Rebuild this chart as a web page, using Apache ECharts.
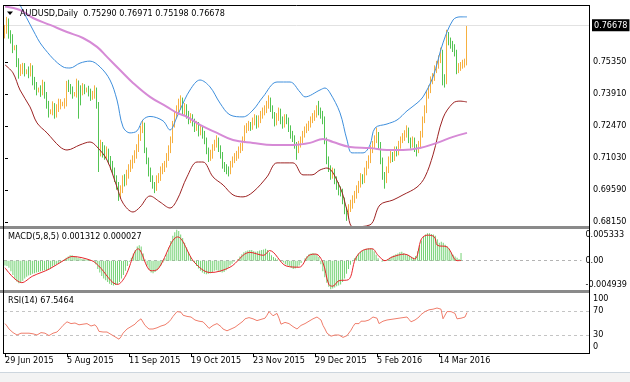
<!DOCTYPE html>
<html><head><meta charset="utf-8">
<script src="https://cdn.jsdelivr.net/npm/echarts@6/dist/echarts.min.js"></script>
<style>html,body{margin:0;padding:0;background:#fff}#c{width:630px;height:382px}</style>
</head><body><div id="c"></div>
<script>
// ---------------- data ----------------
const titleText = "AUDUSD,Daily  0.75290 0.76971 0.75198 0.76678";
const macdTitle = "MACD(5,8,5) 0.001312 0.000027";
const rsiTitle = "RSI(14) 67.5464";
const lastPrice = 0.76678;
const priceTicks = [0.7535, 0.7391, 0.7247, 0.7103, 0.6959, 0.6815];
const macdTicks = [0.005333, 0, -0.004939];
const macdTickText = ["0.005333", "0.00", "-0.004939"];
const rsiTicks = [100, 70, 30, 0];
const rsiLevels = [70, 30];
const dateTickIdx = [0, 31, 62, 93, 124, 155, 186, 217];
const dateLabels = ["29 Jun 2015", "5 Aug 2015", "11 Sep 2015", "19 Oct 2015", "23 Nov 2015", "29 Dec 2015", "5 Feb 2016", "14 Mar 2016"];

const opens = [
0.7660,0.7679,0.7715,0.7657,0.7643,0.7598,0.7598,0.7535,0.7490,0.7499,
0.7508,0.7490,0.7490,0.7486,0.7508,0.7445,0.7427,0.7409,0.7409,0.7400,
0.7432,0.7387,0.7342,0.7310,0.7310,0.7337,0.7301,0.7328,0.7346,0.7346,
0.7346,0.7346,0.7432,0.7418,0.7409,0.7391,0.7391,0.7441,0.7409,0.7400,
0.7418,0.7409,0.7409,0.7400,0.7382,0.7382,0.7409,0.7342,0.7139,0.7148,
0.7139,0.7117,0.7130,0.7094,0.7072,0.7049,0.7013,0.6982,0.6937,0.6959,
0.7004,0.6995,0.7027,0.7058,0.7072,0.7094,0.7117,0.7148,0.7193,0.7229,
0.7252,0.7139,0.7094,0.7040,0.7013,0.6982,0.6968,0.7004,0.7013,0.7049,
0.7058,0.7072,0.7103,0.7139,0.7184,0.7252,0.7297,0.7319,0.7342,0.7364,
0.7310,0.7328,0.7297,0.7274,0.7283,0.7265,0.7238,0.7252,0.7220,0.7229,
0.7207,0.7184,0.7139,0.7103,0.7117,0.7148,0.7162,0.7184,0.7148,0.7117,
0.7072,0.7058,0.7049,0.7040,0.7072,0.7094,0.7103,0.7117,0.7139,0.7148,
0.7184,0.7229,0.7238,0.7252,0.7243,0.7265,0.7283,0.7252,0.7274,0.7297,
0.7310,0.7319,0.7342,0.7364,0.7328,0.7297,0.7265,0.7283,0.7310,0.7274,
0.7252,0.7283,0.7274,0.7238,0.7207,0.7193,0.7162,0.7139,0.7162,0.7184,
0.7207,0.7229,0.7238,0.7252,0.7274,0.7283,0.7297,0.7319,0.7310,0.7297,
0.7274,0.7184,0.7094,0.7058,0.7027,0.7040,0.7004,0.6982,0.6959,0.6950,
0.6914,0.6869,0.6847,0.6878,0.6892,0.6914,0.6937,0.6959,0.6982,0.7013,
0.7004,0.7040,0.7072,0.7094,0.7139,0.7162,0.7184,0.7207,0.7162,0.7094,
0.7027,0.7004,0.7049,0.7094,0.7117,0.7103,0.7139,0.7130,0.7162,0.7184,
0.7193,0.7207,0.7229,0.7184,0.7162,0.7184,0.7148,0.7139,0.7162,0.7207,
0.7274,0.7319,0.7387,0.7409,0.7454,0.7463,0.7499,0.7522,0.7544,0.7580,
0.7454,0.7445,0.7657,0.7625,0.7612,0.7598,0.7580,0.7499,0.7508,0.7517,
0.7526,0.75290];
const highs = [
0.7702,0.7738,0.7731,0.7678,0.7660,0.7610,0.7612,0.7552,0.7525,0.7531,
0.7530,0.7502,0.7515,0.7530,0.7520,0.7468,0.7445,0.7420,0.7430,0.7455,
0.7446,0.7400,0.7360,0.7322,0.7358,0.7350,0.7345,0.7370,0.7368,0.7356,
0.7372,0.7450,0.7455,0.7436,0.7425,0.7400,0.7460,0.7452,0.7430,0.7440,
0.7435,0.7420,0.7428,0.7415,0.7405,0.7430,0.7420,0.7355,0.7185,0.7175,
0.7160,0.7155,0.7145,0.7112,0.7090,0.7060,0.7025,0.6995,0.6980,0.7025,
0.7030,0.7050,0.7075,0.7095,0.7115,0.7138,0.7165,0.7210,0.7248,0.7275,
0.7262,0.7150,0.7105,0.7060,0.7025,0.6995,0.7025,0.7035,0.7065,0.7080,
0.7090,0.7125,0.7160,0.7200,0.7270,0.7315,0.7340,0.7370,0.7385,0.7375,
0.7350,0.7345,0.7315,0.7305,0.7300,0.7280,0.7270,0.7265,0.7250,0.7245,
0.7225,0.7195,0.7150,0.7140,0.7165,0.7185,0.7205,0.7195,0.7160,0.7130,
0.7085,0.7075,0.7065,0.7090,0.7110,0.7125,0.7135,0.7155,0.7170,0.7200,
0.7250,0.7260,0.7270,0.7265,0.7285,0.7300,0.7295,0.7295,0.7315,0.7330,
0.7340,0.7360,0.7385,0.7375,0.7340,0.7310,0.7305,0.7330,0.7325,0.7290,
0.7300,0.7300,0.7285,0.7250,0.7225,0.7205,0.7175,0.7180,0.7200,0.7225,
0.7245,0.7258,0.7270,0.7290,0.7305,0.7318,0.7340,0.7360,0.7330,0.7315,
0.7290,0.7195,0.7110,0.7070,0.7060,0.7055,0.7020,0.6995,0.6975,0.6965,
0.6925,0.6880,0.6895,0.6915,0.6935,0.6955,0.6980,0.7000,0.7035,0.7030,
0.7060,0.7090,0.7115,0.7160,0.7180,0.7205,0.7240,0.7220,0.7175,0.7105,
0.7040,0.7065,0.7110,0.7135,0.7130,0.7155,0.7155,0.7180,0.7200,0.7215,
0.7228,0.7250,0.7240,0.7195,0.7200,0.7195,0.7165,0.7180,0.7225,0.7290,
0.7340,0.7405,0.7430,0.7470,0.7485,0.7520,0.7540,0.7565,0.7600,0.7590,
0.7480,0.7680,0.7670,0.7645,0.7630,0.7615,0.7590,0.7530,0.7535,0.7545,
0.7550,0.76971];
const lows = [
0.7641,0.7662,0.7640,0.7618,0.7575,0.7588,0.7512,0.7460,0.7472,0.7480,
0.7470,0.7480,0.7462,0.7470,0.7430,0.7410,0.7385,0.7398,0.7378,0.7385,
0.7370,0.7325,0.7285,0.7300,0.7295,0.7280,0.7285,0.7310,0.7322,0.7336,
0.7325,0.7335,0.7400,0.7390,0.7370,0.7380,0.7375,0.7280,0.7340,0.7385,
0.7390,0.7398,0.7380,0.7360,0.7365,0.7370,0.7325,0.7040,0.7110,0.7105,
0.7095,0.7100,0.7075,0.7050,0.7030,0.6995,0.6960,0.6910,0.6920,0.6945,
0.6975,0.6980,0.7010,0.7040,0.7055,0.7080,0.7100,0.7130,0.7180,0.7215,
0.7125,0.7075,0.7020,0.6995,0.6965,0.6945,0.6955,0.6990,0.7000,0.7030,
0.7040,0.7060,0.7090,0.7125,0.7170,0.7240,0.7280,0.7300,0.7320,0.7295,
0.7295,0.7280,0.7255,0.7260,0.7245,0.7220,0.7225,0.7200,0.7205,0.7190,
0.7165,0.7120,0.7085,0.7090,0.7100,0.7135,0.7150,0.7130,0.7100,0.7055,
0.7040,0.7030,0.7020,0.7030,0.7060,0.7080,0.7090,0.7100,0.7125,0.7135,
0.7170,0.7215,0.7225,0.7225,0.7230,0.7250,0.7235,0.7240,0.7260,0.7280,
0.7295,0.7305,0.7325,0.7310,0.7280,0.7245,0.7250,0.7270,0.7255,0.7235,
0.7240,0.7255,0.7220,0.7190,0.7175,0.7145,0.7095,0.7125,0.7150,0.7170,
0.7195,0.7215,0.7225,0.7240,0.7260,0.7270,0.7285,0.7295,0.7280,0.7255,
0.7165,0.7075,0.7040,0.7005,0.7010,0.6985,0.6960,0.6935,0.6930,0.6895,
0.6850,0.6820,0.6830,0.6860,0.6875,0.6900,0.6920,0.6945,0.6970,0.6985,
0.6990,0.7025,0.7055,0.7080,0.7125,0.7145,0.7170,0.7145,0.7075,0.7005,
0.6965,0.6990,0.7035,0.7080,0.7085,0.7090,0.7110,0.7115,0.7145,0.7170,
0.7180,0.7195,0.7170,0.7145,0.7150,0.7130,0.7110,0.7125,0.7150,0.7195,
0.7260,0.7305,0.7370,0.7395,0.7435,0.7450,0.7485,0.7505,0.7530,0.7430,
0.7420,0.7435,0.7610,0.7595,0.7580,0.7560,0.7480,0.7485,0.7495,0.7505,
0.7510,0.75198];
const closes = [
0.7679,0.7715,0.7657,0.7643,0.7598,0.7598,0.7535,0.7490,0.7499,0.7508,
0.7490,0.7490,0.7486,0.7508,0.7445,0.7427,0.7409,0.7409,0.7400,0.7432,
0.7387,0.7342,0.7310,0.7310,0.7337,0.7301,0.7328,0.7346,0.7346,0.7346,
0.7346,0.7432,0.7418,0.7409,0.7391,0.7391,0.7441,0.7409,0.7400,0.7418,
0.7409,0.7409,0.7400,0.7382,0.7382,0.7409,0.7342,0.7139,0.7148,0.7139,
0.7117,0.7130,0.7094,0.7072,0.7049,0.7013,0.6982,0.6937,0.6959,0.7004,
0.6995,0.7027,0.7058,0.7072,0.7094,0.7117,0.7148,0.7193,0.7229,0.7252,
0.7139,0.7094,0.7040,0.7013,0.6982,0.6968,0.7004,0.7013,0.7049,0.7058,
0.7072,0.7103,0.7139,0.7184,0.7252,0.7297,0.7319,0.7342,0.7364,0.7310,
0.7328,0.7297,0.7274,0.7283,0.7265,0.7238,0.7252,0.7220,0.7229,0.7207,
0.7184,0.7139,0.7103,0.7117,0.7148,0.7162,0.7184,0.7148,0.7117,0.7072,
0.7058,0.7049,0.7040,0.7072,0.7094,0.7103,0.7117,0.7139,0.7148,0.7184,
0.7229,0.7238,0.7252,0.7243,0.7265,0.7283,0.7252,0.7274,0.7297,0.7310,
0.7319,0.7342,0.7364,0.7328,0.7297,0.7265,0.7283,0.7310,0.7274,0.7252,
0.7283,0.7274,0.7238,0.7207,0.7193,0.7162,0.7139,0.7162,0.7184,0.7207,
0.7229,0.7238,0.7252,0.7274,0.7283,0.7297,0.7319,0.7310,0.7297,0.7274,
0.7184,0.7094,0.7058,0.7027,0.7040,0.7004,0.6982,0.6959,0.6950,0.6914,
0.6869,0.6847,0.6878,0.6892,0.6914,0.6937,0.6959,0.6982,0.7013,0.7004,
0.7040,0.7072,0.7094,0.7139,0.7162,0.7184,0.7207,0.7162,0.7094,0.7027,
0.7004,0.7049,0.7094,0.7117,0.7103,0.7139,0.7130,0.7162,0.7184,0.7193,
0.7207,0.7229,0.7184,0.7162,0.7184,0.7148,0.7139,0.7162,0.7207,0.7274,
0.7319,0.7387,0.7409,0.7454,0.7463,0.7499,0.7522,0.7544,0.7580,0.7454,
0.7445,0.7657,0.7625,0.7612,0.7598,0.7580,0.7499,0.7508,0.7517,0.7526,
0.7529,0.76678];

// Bollinger bands and moving average, read as [bar index, price]
const bbUpper = [[0,0.7927],[7.5,0.7792],[14,0.7679],[19,0.7603],[29,0.7513],[32.5,0.7508],[37.5,0.7530],[42.5,0.7539],[47.5,0.7513],[52.5,0.7454],[56,0.7364],[59,0.7243],[62.5,0.7216],[66,0.7225],[69,0.7275],[72.5,0.7290],[79,0.7270],[82.5,0.7229],[86,0.7288],[87.5,0.7319],[92.5,0.7409],[97.5,0.7454],[102.5,0.7423],[107.5,0.7350],[112.5,0.7297],[119,0.7288],[124,0.7319],[129,0.7378],[136,0.7445],[142.5,0.7445],[147.5,0.7400],[150,0.7378],[157.5,0.7409],[160,0.7418],[162.5,0.7396],[167.5,0.7306],[171,0.7184],[173.5,0.7126],[179,0.7126],[182.5,0.7162],[185,0.7238],[191,0.7256],[196,0.7274],[201,0.7315],[206,0.7350],[209,0.7378],[214,0.7468],[219,0.7621],[224,0.7724],[227.5,0.7738],[231,0.7738]];
const bbLower = [[0,0.7522],[4,0.7486],[7.5,0.7409],[12.5,0.7333],[16,0.7261],[21,0.7216],[27.5,0.7153],[31,0.7139],[37.5,0.7162],[42.5,0.7175],[46,0.7153],[51,0.7094],[56,0.6972],[59,0.6900],[64,0.6860],[67.5,0.6882],[72.5,0.6932],[77.5,0.6905],[82.5,0.6878],[86,0.6914],[91,0.7018],[96,0.7085],[99,0.7085],[104,0.7018],[109,0.6982],[114,0.6937],[119,0.6928],[124,0.6950],[131,0.7018],[136,0.7081],[144,0.7081],[149,0.7027],[153.5,0.7027],[157.5,0.7049],[161,0.7058],[167.5,0.6972],[171,0.6869],[174,0.6793],[182.5,0.6802],[187.5,0.6892],[194,0.6914],[199,0.6937],[206,0.6972],[210,0.7018],[214,0.7117],[219,0.7283],[224,0.7350],[227.5,0.7359],[231,0.7355]];
const maLine = [[0,0.7785],[7.5,0.7769],[14,0.7733],[22.5,0.7702],[31,0.7670],[39,0.7643],[46,0.7603],[51,0.7558],[57.5,0.7499],[64,0.7441],[72.5,0.7378],[81,0.7333],[86,0.7306],[91,0.7288],[97.5,0.7252],[106,0.7216],[114,0.7184],[124,0.7171],[134,0.7162],[144,0.7162],[152.5,0.7171],[159,0.7189],[164,0.7175],[172.5,0.7153],[182.5,0.7148],[191,0.7139],[199,0.7139],[207.5,0.7148],[216,0.7171],[224,0.7198],[231,0.7216]];

// MACD main (histogram), one value per bar
const macd = [
-0.0008,-0.0009,-0.0012,-0.0018,-0.0024,-0.0030,-0.0035,-0.0038,-0.0037,-0.0034,
-0.0030,-0.0027,-0.0025,-0.0024,-0.0022,-0.0021,-0.0020,-0.0019,-0.0018,-0.0017,
-0.0016,-0.0016,-0.0015,-0.0013,-0.0010,-0.0008,-0.0006,-0.0005,-0.0003,-0.0001,
0.0002,0.0005,0.0007,0.0009,0.0009,0.0008,0.0007,0.0005,0.0004,0.0003,
0.0003,0.0002,0.0002,0.0001,0.0000,-0.0002,-0.0006,-0.0014,-0.0020,-0.0026,
-0.0030,-0.0033,-0.0036,-0.0039,-0.0041,-0.0042,-0.0041,-0.0040,-0.0036,-0.0030,
-0.0024,-0.0017,-0.0009,-0.0002,0.0005,0.0012,0.0018,0.0024,0.0026,0.0024,
0.0012,0.0002,-0.0008,-0.0015,-0.0020,-0.0021,-0.0019,-0.0016,-0.0012,-0.0008,
-0.0003,0.0004,0.0012,0.0022,0.0033,0.0042,0.0048,0.0052,0.0050,0.0044,
0.0038,0.0030,0.0022,0.0014,0.0007,0.0001,-0.0004,-0.0009,-0.0013,-0.0017,
-0.0020,-0.0022,-0.0023,-0.0022,-0.0021,-0.0019,-0.0017,-0.0016,-0.0017,-0.0019,
-0.0020,-0.0019,-0.0016,-0.0012,-0.0008,-0.0005,-0.0002,0.0000,0.0003,0.0007,
0.0011,0.0014,0.0016,0.0017,0.0018,0.0018,0.0016,0.0015,0.0016,0.0017,
0.0018,0.0019,0.0020,0.0018,0.0014,0.0009,0.0006,0.0004,0.0002,0.0000,
-0.0001,-0.0003,-0.0006,-0.0008,-0.0010,-0.0012,-0.0014,-0.0013,-0.0011,-0.0008,
-0.0004,0.0000,0.0004,0.0008,0.0011,0.0012,0.0013,0.0012,0.0010,0.0006,
-0.0006,-0.0018,-0.0028,-0.0037,-0.0044,-0.0048,-0.0047,-0.0045,-0.0043,-0.0042,
-0.0040,-0.0036,-0.0030,-0.0022,-0.0014,-0.0007,-0.0001,0.0004,0.0008,0.0012,
0.0015,0.0017,0.0019,0.0020,0.0021,0.0021,0.0020,0.0016,0.0010,0.0004,
0.0000,-0.0002,-0.0001,0.0001,0.0003,0.0005,0.0007,0.0009,0.0011,0.0012,
0.0014,0.0015,0.0013,0.0011,0.0010,0.0008,0.0006,0.0005,0.0008,0.0016,
0.0026,0.0034,0.0040,0.0044,0.0046,0.0046,0.0045,0.0044,0.0042,0.0036,
0.0030,0.0032,0.0030,0.0027,0.0024,0.0020,0.0014,0.0010,0.0007,0.0005,
0.0003,0.0013];
// MACD signal, read as [bar index, value]
const macdSignal = [[0,-0.0012],[8.5,-0.0037],[14,-0.0026],[22.5,-0.0014],[31,0.0003],[34,0.0007],[44,0.0000],[47.5,-0.0009],[57,-0.0040],[61,-0.0026],[67.5,0.0020],[74,-0.0017],[77.5,-0.0014],[87.5,0.0040],[96,-0.0003],[104,-0.0020],[114,-0.0011],[124,0.0014],[131,0.0009],[134,0.0017],[142.5,-0.0009],[149,-0.0011],[154,0.0009],[157.5,0.0011],[161,-0.0003],[164,-0.0040],[166,-0.0043],[169,-0.0034],[174,-0.0032],[177.5,0.0003],[181,0.0017],[186,0.0020],[189,0.0009],[192.5,0.0000],[196,0.0006],[202.5,0.0011],[207.5,0.0003],[211,0.0037],[214,0.0043],[217.5,0.0040],[219,0.0026],[224,0.0023],[229,0.0000],[231,0.000027]];

const rsi = [
49,45,40,38,34,33,30,31,33,35,
33,34,33,35,32,31,30,32,34,35,
33,31,29,30,33,31,35,38,42,46,
48,52,50,49,52,50,53,47,46,48,
47,49,47,45,46,47,43,36,37,35,
34,35,32,31,29,27,25,23,27,33,
34,40,42,44,46,48,52,55,57,56,
46,43,40,39,40,39,42,43,45,46,
47,49,52,56,61,65,69,67,68,63,
64,61,59,60,57,55,56,53,54,52,
49,45,41,43,46,47,49,46,44,40,
39,37,38,40,40,43,45,48,49,53,
57,60,59,57,57,58,54,55,56,55,
58,63,69,66,62,64,66,58,48,46,
51,52,49,46,44,42,40,43,46,46,
49,51,53,55,57,58,60,60,55,46,
40,33,30,28,31,30,32,30,29,26,
27,29,32,38,44,49,50,49,53,52,
53,54,55,57,60,63,58,49,51,53,
52,55,54,56,55,57,57,58,56,59,
58,60,56,52,52,55,57,60,64,67,
69,71,72,71,73,74,75,72,73,57,
60,69,70,69,69,66,57,58,58,60,
60,67.5];

// ---------------- chart ----------------
const FONT = "'DejaVu Sans Condensed','DejaVu Sans',sans-serif";
const UP = '#f6b040', DOWN = '#52c452';
const candleData = closes.map((c, i) => [i, opens[i], c, lows[i], highs[i]]);
const macdData = macd.map((v, i) => [i, v]);
const rsiData = rsi.map((v, i) => [i, v]);

const chart = echarts.init(document.getElementById('c'), null, {renderer: 'canvas', width: 630, height: 382});

const baseX = (k) => ({
  type: 'value', gridIndex: k, min: -0.5, max: 292, show: k === 2,
  axisLine: {show: false}, splitLine: {show: false},
  axisTick: {show: k === 2, customValues: dateTickIdx, length: 4, lineStyle: {color: '#000'}},
  axisLabel: {show: k === 2, customValues: dateTickIdx, align: 'left', margin: 3, color: '#000', fontSize: 9, fontFamily: FONT,
    formatter: (v) => { const j = dateTickIdx.indexOf(Math.round(v)); return j >= 0 ? dateLabels[j] : ''; }}
});

const lbl = {color: '#000', fontSize: 9, fontFamily: FONT};

const option = {
  animation: false,
  backgroundColor: '#fff',
  grid: [
    {left: 4, right: 41, top: 5, height: 221},
    {left: 4, right: 41, top: 229, height: 61},
    {left: 4, right: 41, top: 293, height: 60}
  ],
  xAxis: [baseX(0), baseX(1), baseX(2)],
  yAxis: [
    {type: 'value', gridIndex: 0, position: 'right', min: 0.6797, max: 0.77915, scale: true,
      axisLine: {show: false}, splitLine: {show: false},
      axisTick: {show: true, customValues: priceTicks, length: 3, lineStyle: {color: '#000'}},
      axisLabel: Object.assign({customValues: priceTicks, margin: 4, formatter: (v) => v.toFixed(5)}, lbl)},
    {type: 'value', gridIndex: 1, position: 'right', min: -0.004939, max: 0.005333,
      axisLine: {show: false}, splitLine: {show: false}, axisTick: {show: false},
      axisLabel: Object.assign({customValues: macdTicks, margin: 4,
        formatter: (v) => { const j = macdTicks.findIndex(t => Math.abs(t - v) < 1e-7); const s = macdTickText[j];
          return j === 0 ? '{t|' + s + '}' : (j === 2 ? '{b|' + s + '}' : '{n|' + s + '}'); },
        rich: {t: Object.assign({padding: [12, 0, 0, 0]}, lbl), b: Object.assign({padding: [0, 0, 10, 0]}, lbl), n: Object.assign({}, lbl)}}, lbl)},
    {type: 'value', gridIndex: 2, position: 'right', min: 0, max: 100,
      axisLine: {show: false}, splitLine: {show: false}, axisTick: {show: false},
      axisLabel: Object.assign({customValues: rsiTicks, margin: 4,
        formatter: (v) => v === 100 ? '{t|100}' : (v === 0 ? '{b|0}' : '{n|' + v + '}'),
        rich: {t: Object.assign({padding: [12, 0, 0, 0]}, lbl), b: Object.assign({padding: [0, 0, 13, 0]}, lbl), n: Object.assign({}, lbl)}}, lbl)}
  ],
  series: [
    {type: 'candlestick', xAxisIndex: 0, yAxisIndex: 0, data: candleData, encode: {x: 0, y: [1, 2, 3, 4]},
      barWidth: 1, z: 3,
      itemStyle: {color: UP, color0: DOWN, borderColor: UP, borderColor0: DOWN, borderWidth: 1},
      markLine: {silent: true, symbol: ['none', 'none'], z: 1,
        lineStyle: {color: '#e2e2e2', type: 'solid', width: 1},
        label: {show: true, position: 'end', formatter: lastPrice.toFixed(5), color: '#fff', backgroundColor: '#000',
          padding: [2, 2, 1, 2], fontSize: 9, fontFamily: FONT, distance: 3},
        data: [{yAxis: lastPrice}]}},
    {type: 'line', xAxisIndex: 0, yAxisIndex: 0, data: bbUpper, symbol: 'none', smooth: 0.35, z: 4,
      lineStyle: {color: '#3f8fdc', width: 1}},
    {type: 'line', xAxisIndex: 0, yAxisIndex: 0, data: bbLower, symbol: 'none', smooth: 0.35, z: 4,
      lineStyle: {color: '#9c2323', width: 1}},
    {type: 'line', xAxisIndex: 0, yAxisIndex: 0, data: maLine, symbol: 'none', smooth: 0.4, z: 4,
      lineStyle: {color: '#d68ad6', width: 2}},
    {type: 'bar', xAxisIndex: 1, yAxisIndex: 1, data: macdData, barWidth: 1, z: 3,
      itemStyle: {color: '#74d274'},
      markLine: {silent: true, symbol: ['none', 'none'], z: 1, label: {show: false},
        lineStyle: {color: '#b4b4b4', type: [3, 3], width: 1}, data: [{yAxis: 0}]}},
    {type: 'line', xAxisIndex: 1, yAxisIndex: 1, data: macdSignal, symbol: 'none', smooth: 0.35, z: 4,
      lineStyle: {color: '#e8262c', width: 1}},
    {type: 'line', xAxisIndex: 2, yAxisIndex: 2, data: rsiData, symbol: 'none', z: 4,
      lineStyle: {color: '#f07e6c', width: 1},
      markLine: {silent: true, symbol: ['none', 'none'], z: 1, label: {show: false},
        lineStyle: {color: '#c4c4c4', type: [3, 3], width: 1}, data: rsiLevels.map(v => ({yAxis: v}))}}
  ],
  graphic: [
    {type: 'rect', z: 100, shape: {x: 0, y: 372, width: 630, height: 10}, style: {fill: '#f3f3f3'}},
    {type: 'line', z: 100, shape: {x1: 0, y1: 372.5, x2: 630, y2: 372.5}, style: {stroke: '#cdd6de', lineWidth: 1}},
    {type: 'rect', z: 100, shape: {x: 0, y: 226, width: 589, height: 3}, style: {fill: '#8a8a8a'}},
    {type: 'rect', z: 100, shape: {x: 0, y: 290, width: 589, height: 3}, style: {fill: '#8a8a8a'}},
    {type: 'line', z: 101, shape: {x1: 3, y1: 5.5, x2: 590, y2: 5.5}, style: {stroke: '#000', lineWidth: 1}},
    {type: 'line', z: 101, shape: {x1: 3.5, y1: 5, x2: 3.5, y2: 354}, style: {stroke: '#000', lineWidth: 1}},
    {type: 'line', z: 101, shape: {x1: 589.5, y1: 5, x2: 589.5, y2: 354}, style: {stroke: '#000', lineWidth: 1}},
    {type: 'line', z: 101, shape: {x1: 3, y1: 353.5, x2: 590, y2: 353.5}, style: {stroke: '#000', lineWidth: 1}},
    {type: 'polygon', z: 101, shape: {points: [[7, 11.5], [13, 11.5], [10, 15]]}, style: {fill: '#000'}},
    {type: 'text', z: 101, style: {text: titleText, x: 20, y: 14, fill: '#000', font: '9px ' + FONT, verticalAlign: 'middle'}},
    {type: 'text', z: 101, style: {text: macdTitle, x: 8, y: 237, fill: '#000', font: '9px ' + FONT, verticalAlign: 'middle'}},
    {type: 'text', z: 101, style: {text: rsiTitle, x: 8, y: 301, fill: '#000', font: '9px ' + FONT, verticalAlign: 'middle'}}
  ]
};
chart.setOption(option);
</script>
</body></html>
